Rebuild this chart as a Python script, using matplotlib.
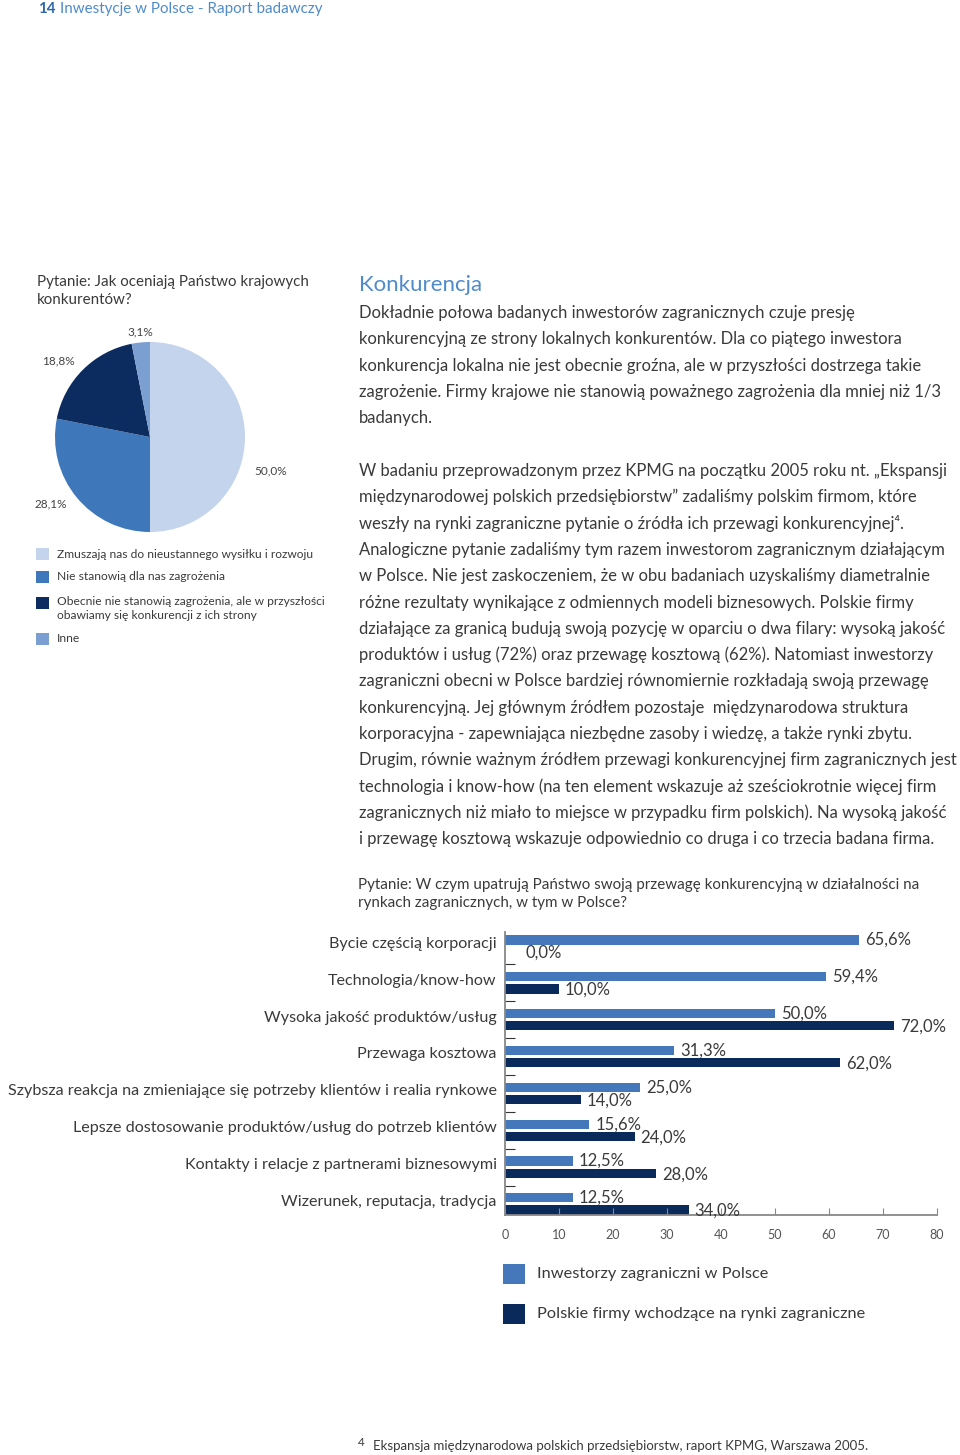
import matplotlib
matplotlib.use("Agg")
import matplotlib.pyplot as plt
from matplotlib.patches import Rectangle
import numpy as np

plt.rcParams['font.family'] = ['Lato', 'DejaVu Sans']

W, H = 960, 1455

# ---- data: pie ----
pie_values = [50.0, 28.1, 18.8, 3.1]
pie_labels = [
    "Zmuszają nas do nieustannego wysiłku i rozwoju",
    "Nie stanowią dla nas zagrożenia",
    "Obecnie nie stanowią zagrożenia, ale w przyszłości\nobawiamy się konkurencji z ich strony",
    "Inne",
]
pie_colors = ["#c4d4ec", "#3f78ba", "#0c2b5e", "#7b9fd0"]

# ---- data: bars ----
categories = [
    "Bycie częścią korporacji",
    "Technologia/know-how",
    "Wysoka jakość produktów/usług",
    "Przewaga kosztowa",
    "Szybsza reakcja na zmieniające się potrzeby klientów i realia rynkowe",
    "Lepsze dostosowanie produktów/usług do potrzeb klientów",
    "Kontakty i relacje z partnerami biznesowymi",
    "Wizerunek, reputacja, tradycja",
]
foreign_investors = [65.6, 59.4, 50.0, 31.3, 25.0, 15.6, 12.5, 12.5]
polish_firms = [0.0, 10.0, 72.0, 62.0, 14.0, 24.0, 28.0, 34.0]
series_names = ["Inwestorzy zagraniczni w Polsce",
                "Polskie firmy wchodzące na rynki zagraniczne"]
bar_colors = ["#4577bb", "#0b2a5c"]
x_ticks = [0, 10, 20, 30, 40, 50, 60, 70, 80]

TEXT = "#3a3a3a"
BLUE_HEAD = "#4f8bcb"


def fx(x):
    return x / W


def fy(y):
    return 1 - y / H


def pct(v):
    return f"{v:.1f}".replace(".", ",") + "%"


fig = plt.figure(figsize=(W / 100, H / 100), dpi=100)

# ---- page header ----
fig.text(fx(38), fy(9), "14", fontsize=10.8, fontweight="bold", color="#2f67ad", va="center")
fig.text(fx(60), fy(9), "Inwestycje w Polsce - Raport badawczy", fontsize=10.9,
         color=BLUE_HEAD, va="center")

# ---- pie question ----
fig.text(fx(37), fy(282), "Pytanie: Jak oceniają Państwo krajowych", fontsize=10.9, color=TEXT, va="center")
fig.text(fx(37), fy(300), "konkurentów?", fontsize=10.9, color=TEXT, va="center")

# ---- pie chart ----
ax_pie = fig.add_axes([fx(55), fy(532), 190 / W, 190 / H])
wedges, texts = ax_pie.pie(pie_values, colors=pie_colors, startangle=90, counterclock=False,
                           labels=[pct(v) for v in pie_values], labeldistance=1.22,
                           textprops=dict(fontsize=8.5, color="#444444"))
ax_pie.set_xlim(-1, 1)
ax_pie.set_ylim(-1, 1)
ax_pie.set_aspect("auto")
texts[0].set_position((1.27, -0.36))
texts[1].set_position((-1.04, -0.70))
texts[2].set_position((-0.96, 0.80))
texts[3].set_position((-0.10, 1.11))
for t in texts:
    t.set_ha("center")
    t.set_va("center")

# pie legend
legend_rows = [554, 577, 596, 639]
for lab, col, y in zip(pie_labels, pie_colors, legend_rows):
    multi = "\n" in lab
    sq_y = y + 7 + 6 if multi else y + 6
    fig.patches.append(Rectangle((fx(36), fy(sq_y)), 13 / W, 12 / H, transform=fig.transFigure,
                                 facecolor=col, edgecolor="none"))
    fig.text(fx(57), fy(y), lab, fontsize=8.65, color=TEXT, va="top" if multi else "center",
             linespacing=1.35)

# ---- right column text ----
fig.text(fx(359), fy(285), "Konkurencja", fontsize=16, color=BLUE_HEAD, va="center")

para1 = [
    "Dokładnie połowa badanych inwestorów zagranicznych czuje presję",
    "konkurencyjną ze strony lokalnych konkurentów. Dla co piątego inwestora",
    "konkurencja lokalna nie jest obecnie groźna, ale w przyszłości dostrzega takie",
    "zagrożenie. Firmy krajowe nie stanowią poważnego zagrożenia dla mniej niż 1/3",
    "badanych.",
]
para2 = [
    "W badaniu przeprowadzonym przez KPMG na początku 2005 roku nt. „Ekspansji",
    "międzynarodowej polskich przedsiębiorstw” zadaliśmy polskim firmom, które",
    "weszły na rynki zagraniczne pytanie o źródła ich przewagi konkurencyjnej⁴.",
    "Analogiczne pytanie zadaliśmy tym razem inwestorom zagranicznym działającym",
    "w Polsce. Nie jest zaskoczeniem, że w obu badaniach uzyskaliśmy diametralnie",
    "różne rezultaty wynikające z odmiennych modeli biznesowych. Polskie firmy",
    "działające za granicą budują swoją pozycję w oparciu o dwa filary: wysoką jakość",
    "produktów i usług (72%) oraz przewagę kosztową (62%). Natomiast inwestorzy",
    "zagraniczni obecni w Polsce bardziej równomiernie rozkładają swoją przewagę",
    "konkurencyjną. Jej głównym źródłem pozostaje  międzynarodowa struktura",
    "korporacyjna - zapewniająca niezbędne zasoby i wiedzę, a także rynki zbytu.",
    "Drugim, równie ważnym źródłem przewagi konkurencyjnej firm zagranicznych jest",
    "technologia i know-how (na ten element wskazuje aż sześciokrotnie więcej firm",
    "zagranicznych niż miało to miejsce w przypadku firm polskich). Na wysoką jakość",
    "i przewagę kosztową wskazuje odpowiednio co druga i co trzecia badana firma.",
]
for i, line in enumerate(para1):
    fig.text(fx(359), fy(313 + i * 26.25), line, fontsize=12, color=TEXT, va="center")
for i, line in enumerate(para2):
    fig.text(fx(359), fy(471 + i * 26.3), line, fontsize=12, color=TEXT, va="center")

# ---- bar question ----
fig.text(fx(358), fy(885), "Pytanie: W czym upatrują Państwo swoją przewagę konkurencyjną w działalności na",
         fontsize=10.9, color=TEXT, va="center")
fig.text(fx(358), fy(903), "rynkach zagranicznych, w tym w Polsce?", fontsize=10.9, color=TEXT, va="center")

# ---- bar chart ----
ax = fig.add_axes([fx(505), fy(1215), 432 / W, (1215 - 932) / H])
idx = np.arange(len(categories))
off = 0.165
bh = 0.25
ax.barh(idx - off, foreign_investors, height=bh, color=bar_colors[0])
ax.barh(idx + off, polish_firms, height=bh, color=bar_colors[1])
for i, (a, b) in enumerate(zip(foreign_investors, polish_firms)):
    ax.annotate(pct(a), (a, i - off), xytext=(6, 0), textcoords="offset pixels",
                va="center", ha="left", fontsize=12, color=TEXT)
    ax.annotate(pct(b), (b, i + off), xytext=(20 if b == 0 else 6, -1), textcoords="offset pixels",
                va="center", ha="left", fontsize=12, color=TEXT)

ax.set_xlim(0, 80)
ax.set_ylim(7.3, -0.38)
ax.set_xticks(x_ticks)
ax.set_xticklabels([str(t) for t in x_ticks], fontsize=9, color="#555555")
ax.tick_params(axis="x", direction="in", length=5, color="#888888", pad=10)
ax.set_yticks(idx - 0.1)
ax.set_yticklabels(categories, fontsize=11.6, color=TEXT)
ax.tick_params(axis="y", length=0, pad=6)
ax.set_yticks(idx[:-1] + 0.5, minor=True)
ax.tick_params(axis="y", which="minor", direction="in", length=7, color="#333333", width=0.8)
for s in ["top", "right"]:
    ax.spines[s].set_visible(False)
for s in ["left", "bottom"]:
    ax.spines[s].set_color("#888888")
    ax.spines[s].set_linewidth(1.3)

# bar legend
for name, col, y in zip(series_names, bar_colors, [1274, 1314]):
    fig.patches.append(Rectangle((fx(503), fy(y + 10)), 22 / W, 20 / H, transform=fig.transFigure,
                                 facecolor=col, edgecolor="none"))
    fig.text(fx(537), fy(y), name, fontsize=11.8, color=TEXT, va="center")

# ---- footnote ----
fig.text(fx(358), fy(1442), "4", fontsize=8.5, color=TEXT, va="center")
fig.text(fx(373), fy(1446), "Ekspansja międzynarodowa polskich przedsiębiorstw, raport KPMG, Warszawa 2005.",
         fontsize=9.5, color=TEXT, va="center")

fig.savefig("out.png", dpi=100, facecolor="white")
